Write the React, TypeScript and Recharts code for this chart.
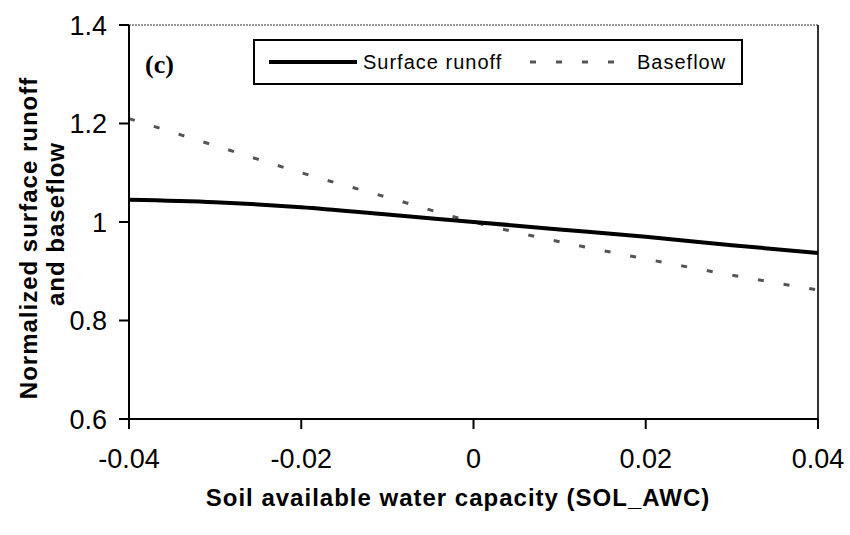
import React from "react";
import { Label, Line, LineChart, ReferenceLine, XAxis, YAxis } from "recharts";

// soil available water capacity change (fraction)
const awc = [-0.04, -0.03, -0.02, -0.01, 0, 0.01, 0.02, 0.03, 0.04];
const surfaceRunoff = [1.045, 1.04, 1.03, 1.015, 1.0, 0.985, 0.97, 0.953, 0.937];
const baseflow = [1.21, 1.155, 1.1, 1.05, 1.0, 0.96, 0.925, 0.892, 0.862];

const xTicks = [-0.04, -0.02, 0, 0.02, 0.04];
const xTickLabels = ["-0.04", "-0.02", "0", "0.02", "0.04"];
const yTicks = [0.6, 0.8, 1.0, 1.2, 1.4];
const yTickLabels = ["0.6", "0.8", "1", "1.2", "1.4"];

const data = awc.map((x, i) => ({ x, surface: surfaceRunoff[i], base: baseflow[i] }));

const tickFont = { fontFamily: "'Liberation Sans', Arial, sans-serif", fontSize: 27, fill: "#000" };
const titleFont = "'Liberation Sans', Arial, sans-serif";

function XTitle() {
  return (
    <text
      x={458}
      y={497}
      textAnchor="middle"
      dominantBaseline="central"
      fontFamily={titleFont}
      fontWeight="bold"
      fontSize={24}
      letterSpacing={1}
      fill="#000"
    >
      Soil available water capacity (SOL_AWC)
    </text>
  );
}

function YTitle() {
  return (
    <g fontFamily={titleFont} fontWeight="bold" fontSize={24} letterSpacing={1} fill="#000">
      <text x={28} y={238} textAnchor="middle" dominantBaseline="central" transform="rotate(-90 28 238)">
        Normalized surface runoff
      </text>
      <text x={55} y={224} textAnchor="middle" dominantBaseline="central" transform="rotate(-90 55 224)">
        and baseflow
      </text>
    </g>
  );
}

export default function App() {
  return (
    <div style={{ position: "absolute", left: 0, top: 0, width: 850, height: 535, background: "#fff" }}>
      <LineChart width={850} height={535} data={data} margin={{ top: 25, right: 32, bottom: 0, left: 0 }}>
        <XAxis
          dataKey="x"
          type="number"
          domain={[-0.04, 0.04]}
          ticks={xTicks}
          tickFormatter={(v: number) => xTickLabels[xTicks.indexOf(v)] ?? String(v)}
          height={116}
          tickSize={10}
          tickMargin={20}
          tick={tickFont}
          axisLine={{ stroke: "#000", strokeWidth: 2 }}
          tickLine={{ stroke: "#000", strokeWidth: 2 }}
        >
          <Label content={() => <XTitle />} />
        </XAxis>
        <YAxis
          type="number"
          domain={[0.6, 1.4]}
          ticks={yTicks}
          tickFormatter={(v: number) => yTickLabels[yTicks.indexOf(v)] ?? String(v)}
          width={129}
          tickSize={10}
          tickMargin={12}
          tick={tickFont}
          axisLine={{ stroke: "#000", strokeWidth: 2 }}
          tickLine={{ stroke: "#000", strokeWidth: 2 }}
        >
          <Label content={() => <YTitle />} />
        </YAxis>
        <ReferenceLine y={1.4} stroke="#777" strokeWidth={1.5} strokeDasharray="2 1" />
        <ReferenceLine x={0.04} stroke="#333" strokeWidth={2} />
        <Line
          type="monotone"
          dataKey="base"
          stroke="#555"
          strokeWidth={3}
          strokeDasharray="6 20"
          dot={false}
          isAnimationActive={false}
        />
        <Line
          type="monotone"
          dataKey="surface"
          stroke="#000"
          strokeWidth={4}
          dot={false}
          isAnimationActive={false}
        />
      </LineChart>
      <div
        style={{
          position: "absolute",
          left: 145,
          top: 50,
          fontFamily: "'Liberation Serif', 'Times New Roman', serif",
          fontWeight: "bold",
          fontSize: 26,
          lineHeight: "30px",
        }}
      >
        (c)
      </div>
      <div
        style={{
          position: "absolute",
          left: 253,
          top: 39,
          width: 486,
          height: 42,
          border: "2px solid #000",
          background: "#fff",
          fontFamily: titleFont,
          fontSize: 20,
          letterSpacing: 1,
        }}
      >
        <svg width={100} height={42} style={{ position: "absolute", left: 14, top: 0 }}>
          <line x1={0} y1={21} x2={88} y2={21} stroke="#000" strokeWidth={4} />
        </svg>
        <span style={{ position: "absolute", left: 108, top: 9, lineHeight: "24px" }}>Surface runoff</span>
        <svg width={110} height={42} style={{ position: "absolute", left: 275, top: 0 }}>
          <line x1={0} y1={21} x2={104} y2={21} stroke="#555" strokeWidth={3} strokeDasharray="6 20" />
        </svg>
        <span style={{ position: "absolute", left: 382, top: 9, lineHeight: "24px" }}>Baseflow</span>
      </div>
    </div>
  );
}
